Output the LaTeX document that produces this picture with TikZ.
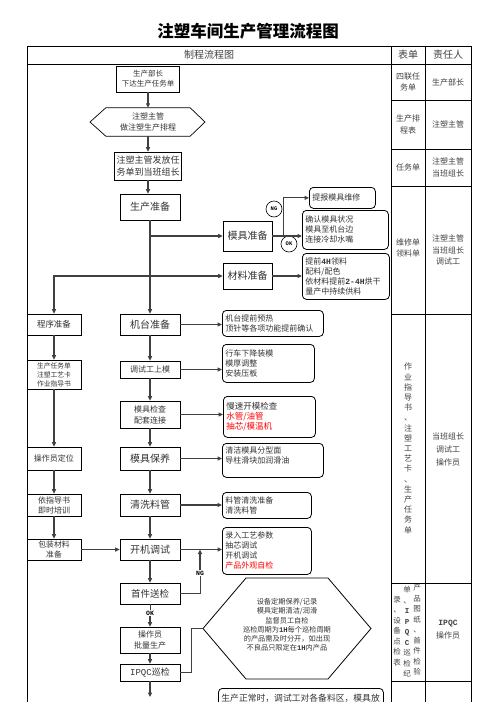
\documentclass[tikz,border=0pt]{standalone}
\usepackage{fontspec}
\setmainfont{Noto Sans CJK SC}
\newfontfamily\monofam{Liberation Mono}
\usetikzlibrary{arrows.meta,calc,positioning}
\newcommand{\fsz}[2]{\fontsize{#1}{#2}\selectfont}

\begin{document}
\begin{tikzpicture}[x=1pt,y=-1pt,
  box/.style={draw,line width=0.7pt,align=center,inner sep=1pt,text=black!80,minimum width=60pt},
  note/.style={draw,line width=0.8pt,rounded corners=4pt,anchor=north west,align=left,inner xsep=3pt,inner ysep=2pt,text=black!80,font=\fsz{8}{10}},
  hexcore/.style={align=center,inner sep=0pt,text=black!80},
  tag/.style={inner sep=1pt,font=\monofam\bfseries\fsz{6.5}{7}},
  okcircle/.style={circle,draw,line width=0.6pt,minimum size=16pt,inner sep=0pt,font=\monofam\bfseries\fsz{5.5}{6}},
  flow/.style={draw=black!75,line width=1.1pt,-{Triangle[length=4.5pt,width=4pt]}},
  link/.style={draw=black!75,line width=1pt},
  grid/.style={line width=0.8pt},
  cell/.style={align=center,text=black!75,font=\fsz{8}{11.5}}]

\useasboundingbox (0,0) rectangle (496,702);

% title and table frame
\node at (248,31) [font=\bfseries\fsz{16.5}{18}] (title) {注塑车间生产管理流程图};
\draw[grid] (27,46) -- (471,46) (27,64) -- (471,64);
\foreach \x in {27,391,425,471} \draw[grid] (\x,46) -- (\x,712);
\foreach \y in {100,149,186,314,583,681} \draw[grid] (391,\y) -- (471,\y);
\node at (209,55) [cell,font=\fsz{10}{12}] (hflow) {制程流程图};
\node at (408,55) [cell,font=\fsz{10}{12}] (hform) {表单};
\node at (448,55) [cell,font=\fsz{10}{12}] (hresp) {责任人};

% forms and owners
\node at (408,82) [cell] (f1) {四联任\\务单};
\node at (448,82) [cell] (r1) {生产部长};
\node at (408,124.5) [cell] (f2) {生产排\\程表};
\node at (448,124.5) [cell] (r2) {注塑主管};
\node at (408,167.5) [cell] (f3) {任务单};
\node at (448,167.5) [cell] (r3) {注塑主管\\当班组长};
\node at (408,248) [cell] (f4) {维修单\\领料单};
\node at (448,250) [cell] (r4) {注塑主管\\当班组长\\调试工};
\node at (408,448.5) [cell,font=\fsz{8}{10.2}] (f5) {作\\业\\指\\导\\书\\、\\注\\塑\\工\\艺\\卡\\、\\生\\产\\任\\务\\单};
\node at (448,449) [cell,font=\fsz{8}{13}] (r5) {当班组长\\调试工\\操作员};
\node at (417,630) [cell,font=\fsz{7.5}{10.5}] (f6a) {产\\品\\图\\纸\\、\\首\\件\\检\\验};
\node at (407,632) [cell,font=\fsz{7.5}{10.5}] (f6b) {单\\、\\{\monofam\bfseries I}\\{\monofam\bfseries P}\\{\monofam\bfseries Q}\\{\monofam\bfseries C}\\巡\\检\\纪};
\node at (397,631) [cell,font=\fsz{7.5}{10.5}] (f6c) {录\\、\\设\\备\\点\\检\\表};
\node at (448,630) [cell,font=\fsz{8}{13}] (r6) {{\monofam\bfseries IPQC}\\操作员};

% main flow
\node at (148,79) [box,minimum width=63pt,minimum height=26pt,font=\fsz{7.5}{10}] (boss) {生产部长\\下达生产任务单};
\node at (148,122) [hexcore,minimum width=84pt,minimum height=28pt,font=\fsz{8}{11}] (plan) {注塑主管\\做注塑生产排程};
\coordinate (planW) at (90,122);
\coordinate (planE) at (205,122);
\draw[line width=0.7pt] (plan.north west) -- (plan.north east) -- (planE) -- (plan.south east) -- (plan.south west) -- (planW) -- cycle;
\node at (148,166) [box,minimum width=67pt,minimum height=28pt,font=\fsz{9}{11.5}] (issue) {注塑主管发放任\\务单到当班组长};
\node at (150,207) [box,minimum height=26pt,font=\fsz{10}{12}] (prep) {生产准备};
\node at (247.5,236) [box,minimum width=49pt,minimum height=30pt,font=\fsz{10}{12}] (mold) {模具准备};
\node at (247.5,276) [box,minimum width=49pt,minimum height=26pt,font=\fsz{10}{12}] (mat) {材料准备};
\node at (150,324.5) [box,minimum height=21pt,font=\fsz{10}{12}] (mach) {机台准备};
\node at (150,369.5) [box,minimum height=17pt,font=\fsz{8}{10}] (mount) {调试工上模};
\node at (150,414.5) [box,minimum height=27pt,font=\fsz{8}{11}] (inspect) {模具检查\\配套连接};
\node at (150,458.5) [box,minimum height=23pt,font=\fsz{10}{12}] (maint) {模具保养};
\node at (150,505) [box,minimum height=22pt,font=\fsz{10}{12}] (flush) {清洗料管};
\node at (150,549.5) [box,minimum height=21pt,font=\fsz{10}{12}] (start) {开机调试};
\node at (150,593.5) [box,minimum height=21pt,font=\fsz{9.5}{12}] (first) {首件送检};
\node at (150,640) [box,minimum height=26pt,font=\fsz{8}{11}] (batch) {操作员\\批量生产};
\node at (150,672.5) [box,minimum height=17pt,font=\fsz{9}{11}] (ipqc) {{\monofam IPQC}巡检};
\coordinate (exit) at (150,697);

% left column
\node at (54,324.5) [box,minimum width=54pt,minimum height=21pt,font=\fsz{8.5}{10}] (prog) {程序准备};
\node at (54,374.5) [box,minimum width=54pt,minimum height=29pt,font=\fsz{6.8}{9}] (card) {生产任务单\\注塑工艺卡\\作业指导书};
\node at (54,458.5) [box,minimum width=54pt,minimum height=23pt,font=\fsz{8}{10}] (pos) {操作员定位};
\node at (54,505) [box,minimum width=54pt,minimum height=22pt,font=\fsz{8}{10}] (train) {依指导书\\即时培训};
\node at (54,549.5) [box,minimum width=54pt,minimum height=21pt,inner sep=0.5pt,font=\fsz{7.8}{9.4}] (pack) {包装材料\\准备};

% notes
\node at (309,187) [note,text width=60pt,minimum height=21pt] (repair) {提报模具维修};
\node at (302,210) [note,text width=80pt,minimum height=39pt] (check) {确认模具状况\\模具至机台边\\连接冷却水嘴};
\node at (302,253) [note,text width=81pt,minimum height=46pt] (supply) {提前{\monofam\bfseries 4H}领料\\配料/配色\\依材料提前{\monofam\bfseries 2-4H}烘干\\量产中持续供料};
\node at (222,310) [note,text width=95pt,minimum height=26pt] (preheat) {机台提前预热\\顶针等各项功能提前确认};
\node at (222,344) [note,text width=86pt,minimum height=38pt] (hoist) {行车下降装模\\模厚调整\\安装压板};
\node at (223,396) [note,text width=86pt,minimum height=41pt,font=\fsz{8.5}{10}] (slow) {慢速开模检查\\\textcolor{red}{水管/油管}\\\textcolor{red}{抽芯/模温机}};
\node at (222,443) [note,text width=95pt,minimum height=34pt] (clean) {清洁模具分型面\\导柱滑块加润滑油\\\mbox{}};
\node at (222,492) [note,text width=83pt,minimum height=26pt] (pipe) {料管清洗准备\\清洗料管};
\node at (222,527) [note,text width=83pt,minimum height=47pt] (param) {录入工艺参数\\抽芯调试\\开机调试\\\textcolor{red}{产品外观自检}};
\node at (218,688) [note,text width=159pt,inner ysep=5.5pt,text depth=30pt,font=\fsz{8.8}{10}] (normal) {生产正常时，调试工对各备料区，模具放};

\node at (274,209) [okcircle] (ngc) {NG};
\node at (289,244) [okcircle] (okc) {OK};
\node at (200,573) [tag] (ng) {NG};
\node at (150,613) [tag] (ok) {OK};

% patrol hexagon
\node at (287,625) [hexcore,font=\fsz{7.2}{9.3}] (cyc) {设备定期保养/记录\\模具定期清洁/润滑\\监督员工自检\\巡检周期为{\monofam\bfseries 1H}每个巡检周期\\的产品需及时分开，如出现\\不良品只限定在{\monofam\bfseries 1H}内产品};
\coordinate (cycW) at (203,628.5);
\coordinate (cycNW) at (246,578);
\coordinate (cycNE) at (328,578);
\coordinate (cycE) at (371,628.5);
\coordinate (cycSE) at (328,679);
\coordinate (cycSW) at (246,679);
\draw[line width=0.8pt] (cycW) -- (cycNW) -- (cycNE) -- (cycE) -- (cycSE) -- (cycSW) -- cycle;

% connectors
\draw[flow] (boss.south) -- (plan.north);
\draw[flow] (plan.south) -- (issue.north);
\draw[flow] (issue.south) -- (issue.south |- prep.north);
\draw[flow] (prep.south) -- (mach.north);
\draw[flow] (prep.south |- mold.west) -- (mold.west);
\draw[flow] (prep.south |- mat.west) -- (mat.west);
\draw[flow] (prep.south |- mat.west) -| (prog.north);
\coordinate (split) at ($(mold.east)+(11,0)$);
\draw[flow] (mold.east) -- (mold.east -| check.west);
\draw[flow] (split) |- (repair.west);
\draw[flow] (mat.east) -- (mat.east -| supply.west);
\draw[flow] (mach.east) -- (mach.east -| preheat.west);
\draw[flow] (mach.south) -- (mount.north);
\draw[flow] (mount.east) -- (mount.east -| hoist.west);
\draw[flow] (mount.south) -- (inspect.north);
\draw[flow] (inspect.east) -- (inspect.east -| slow.west);
\draw[flow] (inspect.south) -- (maint.north);
\draw[flow] (maint.east) -- (maint.east -| clean.west);
\draw[flow] (maint.south) -- (flush.north);
\draw[flow] (flush.east) -- (flush.east -| pipe.west);
\draw[flow] (flush.south) -- (start.north);
\draw[flow] (start.east) -- (start.east -| param.west);
\draw[flow] (start.south) -- (first.north);
\draw[link] (first.east) -| (ng.south);
\draw[flow] (ng.north) -- (ng.north |- start.east);
\draw[link] (first.south) -- (ok.north);
\draw[flow] (ok.south) -- (batch.north);
\draw[flow] (batch.south) -- (ipqc.north);
\draw[flow] (ipqc.south) -- (exit);
\draw[link] (ipqc.east) -- ++(11,0) |- (cycW);
\draw[flow] (prog.south) -- (card.north);
\draw[flow] (card.south) -- (pos.north);
\draw[flow] (pos.south) -- (train.north);
\draw[flow] (train.south) -- (pack.north);
\draw[flow] (pack.east) -- (start.west);

\end{tikzpicture}
\end{document}
